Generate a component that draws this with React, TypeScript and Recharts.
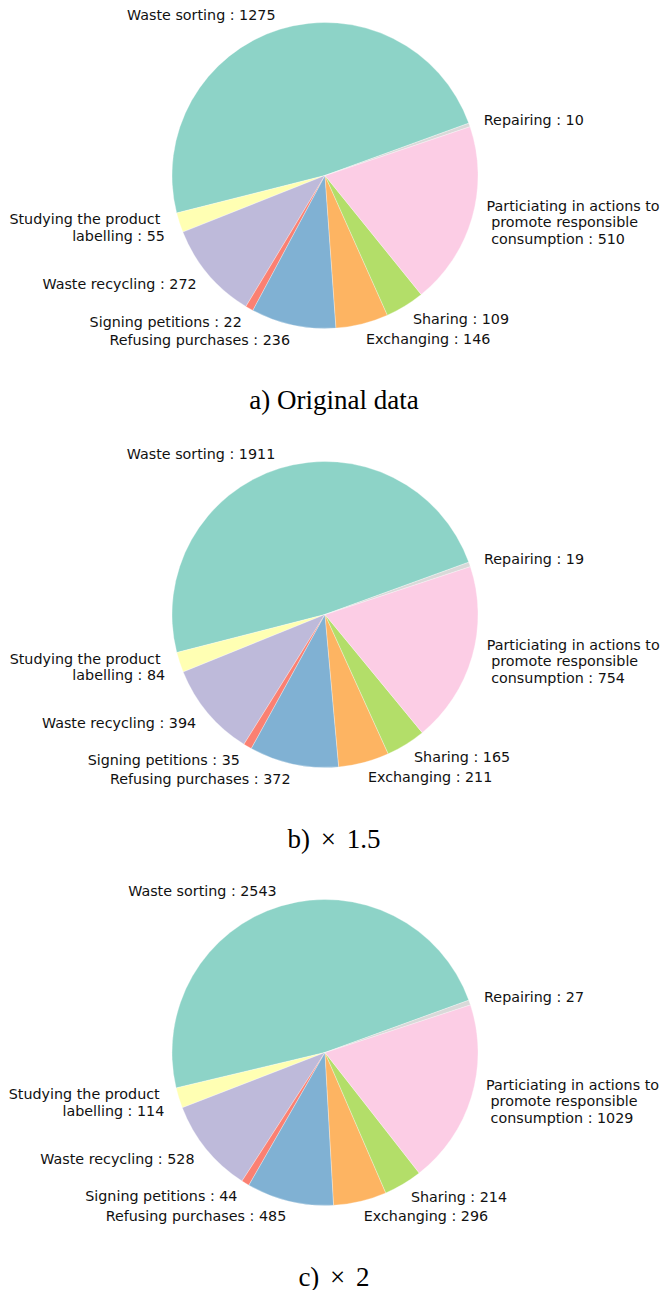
import { Cell, Pie, PieChart } from "recharts";

const CATEGORIES = [
  "Waste sorting",
  "Studying the product \nlabelling",
  "Waste recycling",
  "Signing petitions",
  "Refusing purchases",
  "Exchanging",
  "Sharing",
  "Particiating in actions to\n promote responsible\n consumption",
  "Repairing",
];

const ORIGINAL = [1275, 55, 272, 22, 236, 146, 109, 510, 10];
const TIMES_1_5 = [1911, 84, 394, 35, 372, 211, 165, 754, 19];
const TIMES_2 = [2543, 114, 528, 44, 485, 296, 214, 1029, 27];

// matplotlib Set3
const COLORS = [
  "#8dd3c7", "#ffffb3", "#bebada", "#fb8072", "#80b1d3",
  "#fdb462", "#b3de69", "#fccde5", "#d9d9d9",
];

const CAPTIONS = ["a) Original data", "b) \u00d7 1.5", "c) \u00d7 2"];
const SERIES = [ORIGINAL, TIMES_1_5, TIMES_2];

const RADIAN = Math.PI / 180;
const LINE_HEIGHT = 16.5;
const SECTION_H = 438.5;

function renderLabel(props: any) {
  const { cx, cy, midAngle, outerRadius, value } = props;
  const name = props.name ?? props.payload?.name;
  const r = outerRadius * 1.1;
  const x = cx + r * Math.cos(-midAngle * RADIAN);
  const y = cy + r * Math.sin(-midAngle * RADIAN);
  const lines = `${name} : ${value}`.split("\n");
  const y0 = y - ((lines.length - 1) * LINE_HEIGHT) / 2;
  return (
    <text
      x={x}
      y={y0}
      textAnchor={x > cx ? "start" : "end"}
      dominantBaseline="central"
      fontSize={14.3}
      fontFamily="DejaVu Sans"
      fill="#111"
      style={{ whiteSpace: "pre" }}
    >
      {lines.map((line, i) => (
        <tspan key={i} x={x} y={y0 + i * LINE_HEIGHT} dominantBaseline="central">
          {line}
        </tspan>
      ))}
    </text>
  );
}

function PieSection({ values, caption }: { values: number[]; caption: string }) {
  const data = CATEGORIES.map((name, i) => ({ name, value: values[i] }));
  return (
    <div style={{ position: "relative", width: 662, height: SECTION_H }}>
      <PieChart width={662} height={SECTION_H} margin={{ top: 0, right: 0, bottom: 0, left: 0 }}>
        <Pie
          data={data}
          dataKey="value"
          nameKey="name"
          cx={325}
          cy={175.5}
          outerRadius={153}
          startAngle={20}
          endAngle={380}
          stroke="#fff"
          strokeWidth={0.3}
          labelLine={false}
          label={renderLabel}
          isAnimationActive={false}
        >
          {data.map((d, i) => (
            <Cell key={d.name} fill={COLORS[i]} />
          ))}
        </Pie>
      </PieChart>
      <div
        style={{
          position: "absolute",
          left: 0,
          top: 385,
          width: 668,
          lineHeight: "30px",
          textAlign: "center",
          fontFamily: "Liberation Serif",
          fontSize: 27,
          wordSpacing: caption.includes("\u00d7") ? 4 : 0,
          color: "#000",
        }}
      >
        {caption}
      </div>
    </div>
  );
}

export default function App() {
  return (
    <div style={{ position: "absolute", left: 0, top: 0, width: 662, height: 1290, background: "#fff" }}>
      {SERIES.map((values, i) => (
        <PieSection key={CAPTIONS[i]} values={values} caption={CAPTIONS[i]} />
      ))}
    </div>
  );
}
